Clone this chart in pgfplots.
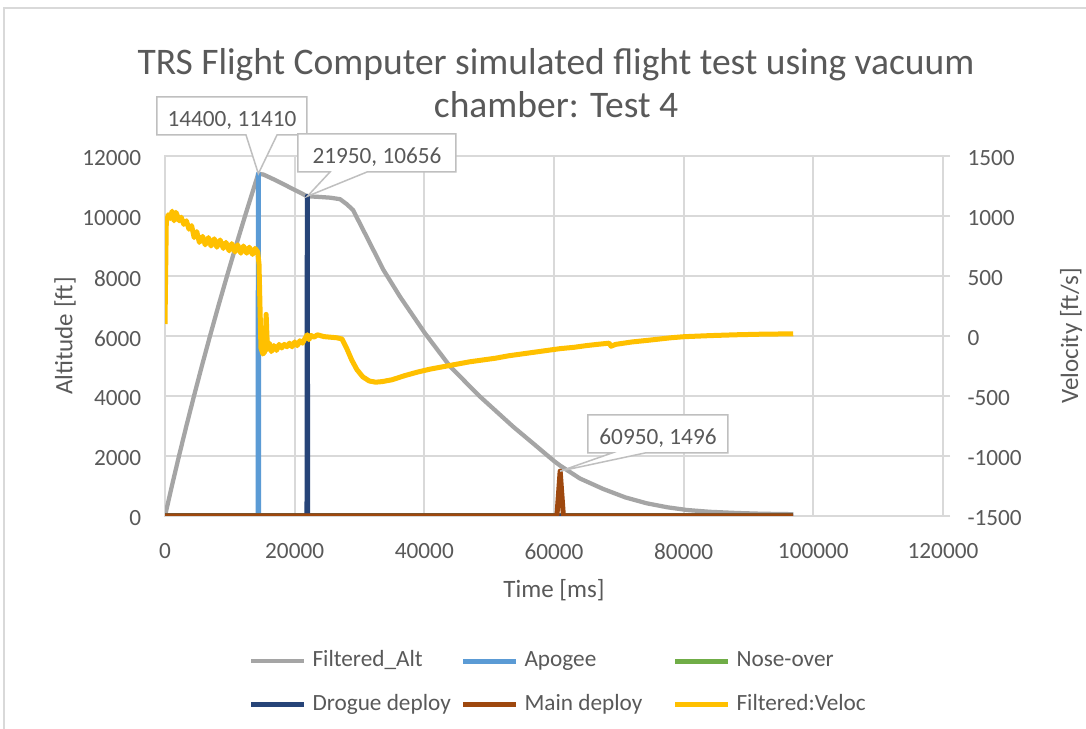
\documentclass[border=0pt]{standalone}
\usepackage{fontspec}
\setmainfont{Carlito}
\usepackage{pgfplots}
\pgfplotsset{compat=1.18}
\definecolor{txt}{HTML}{595959}
\definecolor{gridc}{HTML}{D9D9D9}
\definecolor{cAlt}{HTML}{A5A5A5}
\definecolor{cApo}{HTML}{5B9BD5}
\definecolor{cNose}{HTML}{70AD47}
\definecolor{cDrog}{HTML}{264478}
\definecolor{cMain}{HTML}{9E480E}
\definecolor{cVel}{HTML}{FFC000}
\definecolor{lbl}{HTML}{BFBFBF}
\newcommand{\ft}{\fontsize{9.3}{11}\selectfont}
\newcommand{\fl}{\fontsize{10}{12}\selectfont}
\begin{document}
\begin{tikzpicture}
\useasboundingbox (0,0) rectangle (434.4pt,291.6pt);
\fill[white] (0,0) rectangle (434.4pt,291.6pt);
\draw[gridc, line width=0.6pt] (1.6pt,0) -- (1.6pt,288.4pt) -- (434.4pt,288.4pt);
\begin{axis}[
  at={(66pt,85.2pt)}, anchor=south west,
  scale only axis, width=311.2pt, height=144pt,
  xmin=0, xmax=120000, ymin=0, ymax=12000,
  xtick={0,20000,...,120000}, ytick={0,2000,...,12000},
  scaled ticks=false,
  /pgf/number format/fixed,
  /pgf/number format/precision=0,
  /pgf/number format/1000 sep={},
  /pgf/number format/assume math mode=true,
  grid=major, major grid style={gridc, line width=0.75pt},
  axis line style={gridc, line width=0.75pt},
  major tick length=0pt, tick style={draw=none},
  ticklabel style={font=\ft, text=txt},
  xticklabel style={anchor=center, inner sep=0pt, yshift=-14.2pt},
  yticklabel style={anchor=east, inner sep=0pt, xshift=-9.3pt, yshift=-1pt},
  xlabel={Time [ms]},
  xlabel style={at={(axis description cs:0.5,-0.2056)}, anchor=center, font=\fl, text=txt},
  ylabel={Altitude [ft]},
  ylabel style={at={(axis description cs:-0.1285,0.5)}, anchor=center, font=\fl, text=txt},
  legend columns=3,
  legend cell align=left,
  legend style={at={(axis description cs:0.1067,-0.4639)}, anchor=west, draw=none, fill=none,
    inner sep=0pt, font=\ft, text=txt, column sep=2.4pt, row sep=9pt,
    nodes={inner sep=0pt, text height=6.6pt, text depth=2pt}},
  legend image code/.code={\draw[#1] (0pt,0pt) -- (21.2pt,0pt);},
]
\addplot[cAlt, line width=1.7pt, line join=round] coordinates {
(0,0) (1059,1000) (2158,2000) (3295,3000) (4471,4000) (5686,5000) (6940,6000)
(8233,7000) (9565,8000) (10936,9000) (12346,10000) (13795,11000)
(14400,11410) (15200,11380)
(16500,11250) (18000,11090) (20000,10870) (21950,10656) (23500,10640) (25500,10610)
(27000,10560) (28000,10400) (29000,10200) (31100,9310) (33700,8200) (36250,7310)
(40100,6090) (44000,4977) (48600,3977) (53700,2977) (57000,2380) (59900,1850)
(60950,1680) (64000,1250) (67600,900) (71000,620) (74300,423) (77500,290)
(80500,200) (84000,140) (88200,100) (92000,75) (96900,60)};
\addlegendentry{\makebox[56.8pt][l]{Filtered\textunderscore Alt}}
\addplot[cApo, line width=2pt, line join=round] coordinates {
(0,0) (14350,0) (14400,11410) (14450,0) (96900,0)};
\addlegendentry{\makebox[56.8pt][l]{Apogee}}
\addplot[cNose, line width=2pt] coordinates {(0,0) (96900,0)};
\addlegendentry{\makebox[56.8pt][l]{Nose-over}}
\addplot[cDrog, line width=2pt, line join=round] coordinates {
(0,0) (21900,0) (21950,10656) (22000,0) (96900,0)};
\addlegendentry{\makebox[56.8pt][l]{Drogue deploy}}
\addplot[cMain, line width=2pt, line join=round] coordinates {
(0,0) (60450,0) (60950,1496) (61450,0) (96900,0)};
\addlegendentry{\makebox[56.8pt][l]{Main deploy}}
\addlegendimage{cVel, line width=2pt}
\addlegendentry{\makebox[56.8pt][l]{Filtered:Veloc}}
\coordinate (pA) at (axis cs:14400,11410);
\coordinate (pD) at (axis cs:21950,10656);
\coordinate (pM) at (axis cs:60950,1496);
\end{axis}
\begin{axis}[
  at={(66pt,85.2pt)}, anchor=south west,
  scale only axis, width=311.2pt, height=144pt,
  xmin=0, xmax=120000, ymin=-1500, ymax=1500,
  ytick={-1500,-1000,...,1500},
  scaled ticks=false,
  /pgf/number format/fixed,
  /pgf/number format/precision=0,
  /pgf/number format/1000 sep={},
  /pgf/number format/assume math mode=true,
  axis y line*=right, axis x line=none,
  y axis line style={gridc, line width=0.75pt},
  ytick style={gridc, line width=0.75pt},
  tick align=outside, major tick length=2.8pt,
  yticklabel style={font=\ft, text=txt, anchor=west, inner sep=0pt, xshift=6.8pt, yshift=-1pt},
  ylabel={Velocity [ft/s]},
  every axis y label/.style={at={(axis description cs:1.1645,0.5)}, rotate=90, anchor=center, font=\fl, text=txt},
]
\addplot[cVel, line width=2pt, line join=round] coordinates {
(0,100) (200,950) (500,1010) (800,980) (1100,1040) (1400,960) (1700,1030) (2200,960)
(2500,990) (2900,930) (3300,960) (3700,890) (4100,920) (4500,820) (4900,870) (5300,780)
(5800,830) (6200,760) (6700,820) (7100,750) (7600,810) (8000,740) (8500,800) (9000,730)
(9400,780) (9900,710) (10300,770) (10800,700) (11200,760) (11700,690) (12100,750)
(12600,690) (13000,740) (13500,680) (13900,730) (14300,700) (14500,600) (14800,-100)
(15100,-150) (15400,-130) (15600,180) (15800,-110) (16100,-60) (16400,-130) (16800,-80)
(17200,-120) (17600,-70) (18000,-100) (18400,-70) (18800,-90) (19200,-60) (19600,-90)
(20000,-50) (20400,-80) (20800,-40) (21200,-60) (21600,-20) (21950,10) (22200,-30)
(22500,5) (23000,-10) (23500,10) (24500,-5) (25500,-10) (26500,-15) (27300,-25)
(28000,-100) (28800,-200) (29600,-280) (30500,-340) (31500,-375) (32500,-385)
(33500,-380) (35000,-365) (37000,-330) (39000,-300) (41000,-275) (43000,-255)
(45000,-235) (47000,-215) (49000,-200) (51000,-185) (53000,-165) (55000,-150)
(57000,-135) (59000,-120) (61000,-105) (63000,-95) (65000,-80) (67000,-68)
(68500,-60) (68800,-85) (69500,-70) (72000,-50) (75000,-33) (78000,-15) (80000,-6)
(84000,3) (88000,10) (92000,15) (96900,18)};
\end{axis}
\begin{scope}[x=0.4pt, y=-0.4pt, shift={(0pt,291.6pt)}]
\node[font=\fontsize{15}{17.2}\selectfont, text=txt, align=center] at (556,83.5)
  {TRS Flight Computer simulated flight test using vacuum\\chamber: Test 4};
\draw[lbl, fill=white, line width=0.6pt, line join=miter] (157,97) -- (307,97) -- (307,135) -- (277,135) -- (pA) -- (246,135) -- (157,135) -- cycle;
\node[font=\ft, text=txt] at (232,120) {14400, 11410};
\draw[lbl, fill=white, line width=0.6pt] (298,134) -- (456,134) -- (456,172) -- (367,172) -- (pD) -- (330,172) -- (298,172) -- cycle;
\node[font=\ft, text=txt] at (377,157) {21950, 10656};
\draw[lbl, fill=white, line width=0.6pt] (588,415) -- (728,415) -- (728,453) -- (645,453) -- (pM) -- (612,453) -- (588,453) -- cycle;
\node[font=\ft, text=txt] at (658,438) {60950, 1496};
\end{scope}
\end{tikzpicture}
\end{document}
